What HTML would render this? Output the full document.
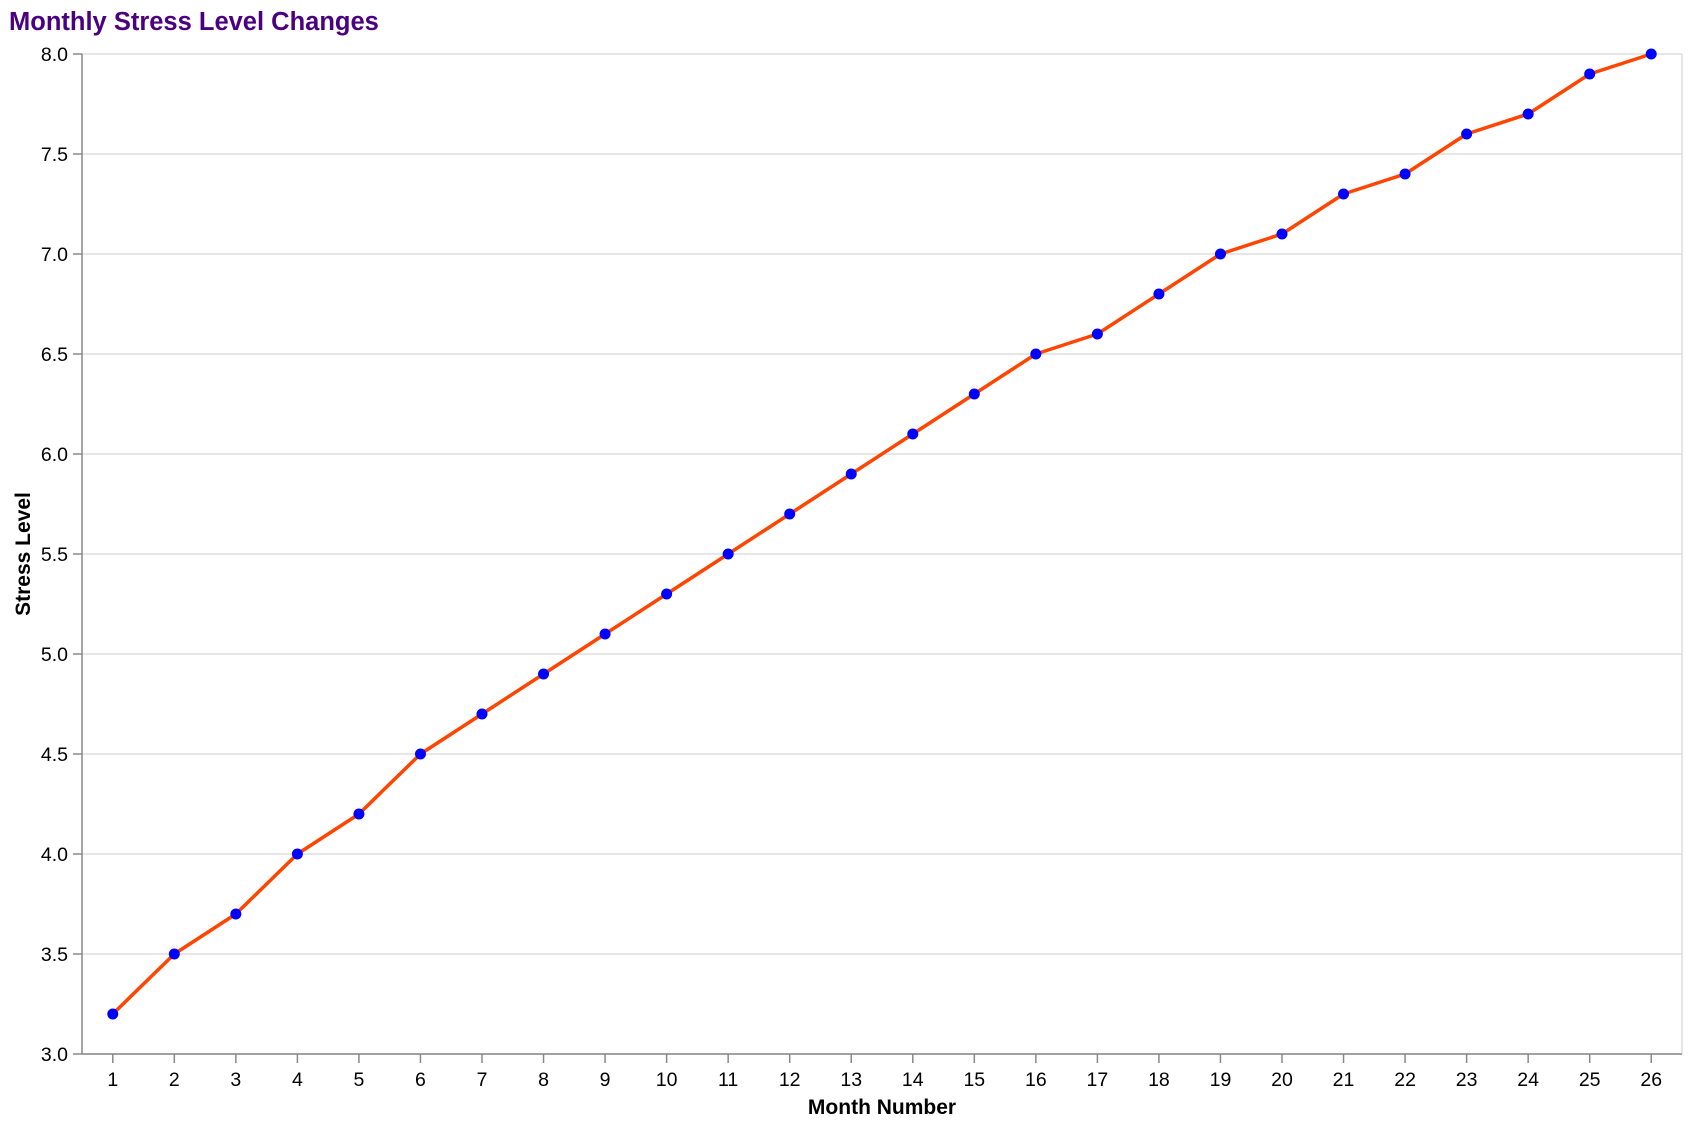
<!DOCTYPE html>
<html><head><meta charset="utf-8"><style>
body{margin:0;background:#fff;}
svg{display:block;font-family:"Liberation Sans",Arial,sans-serif;}
</style></head><body>
<svg id="chart" width="1692" height="1128" viewBox="0 0 1692 1128">
<text x="9" y="30" font-size="25.5" font-weight="bold" fill="#4b0082">Monthly Stress Level Changes</text>
<g id="grid"></g>
<g id="yaxis"></g>
<g id="xaxis"></g>
<g id="series"></g>
<text x="882" y="1114" font-size="21" font-weight="bold" text-anchor="middle" fill="#000">Month Number</text>
<text transform="translate(30,554) rotate(-90)" font-size="21" font-weight="bold" text-anchor="middle" fill="#000">Stress Level</text>
</svg>
<script>
const months = [1,2,3,4,5,6,7,8,9,10,11,12,13,14,15,16,17,18,19,20,21,22,23,24,25,26];
const stress = [3.2,3.5,3.7,4.0,4.2,4.5,4.7,4.9,5.1,5.3,5.5,5.7,5.9,6.1,6.3,6.5,6.6,6.8,7.0,7.1,7.3,7.4,7.6,7.7,7.9,8.0];
const yTicks = [3.0,3.5,4.0,4.5,5.0,5.5,6.0,6.5,7.0,7.5,8.0];
const yMin = 3, yMax = 8;

const L=82,R=1682,T=54,B=1054;
const NS="http://www.w3.org/2000/svg";
const step=(R-L)/months.length;
function xs(i){return L+step*(i+0.5);}
function ys(v){return B-(v-yMin)/(yMax-yMin)*(B-T);}
function mk(tag,attrs,parent){const e=document.createElementNS(NS,tag);for(const k in attrs)e.setAttribute(k,attrs[k]);parent.appendChild(e);return e;}
const grid=document.getElementById('grid'),ya=document.getElementById('yaxis'),xa=document.getElementById('xaxis'),ser=document.getElementById('series');

yTicks.forEach(t=>{
  const y=ys(t);
  const g=mk('line',{x1:L,x2:R,y1:y,y2:y,stroke:'#ddd','stroke-width':1.5},grid);
  
  
  const tk=mk('line',{x1:L-9,x2:L,y1:y,y2:y,stroke:'#888','stroke-width':1.5},ya);
  
  
  const lb=mk('text',{x:L-14,y:y+7,'font-size':19.5,'text-anchor':'end',fill:'#000'},ya);
  lb.textContent=t.toFixed(1);
  
  
});
const rb=mk('line',{x1:R,x2:R,y1:T,y2:B,stroke:'#ddd','stroke-width':1.5},grid);


const yl=mk('line',{x1:L,x2:L,y1:T,y2:B,stroke:'#888','stroke-width':1.5},ya);


const xl=mk('line',{x1:L,x2:R,y1:B,y2:B,stroke:'#888','stroke-width':1.5},xa);


months.forEach((m,i)=>{
  const x=xs(i);
  const tk=mk('line',{x1:x,x2:x,y1:B,y2:B+9,stroke:'#888','stroke-width':1.5},xa);
  
  
  const lb=mk('text',{x:x,y:B+32,'font-size':19.5,'text-anchor':'middle',fill:'#000'},xa);
  lb.textContent=m;
  
  
});
const pts=stress.map((v,i)=>xs(i)+','+ys(v)).join(' ');
const pl=mk('polyline',{points:pts,fill:'none',stroke:'#ff4500','stroke-width':3.5,'stroke-linejoin':'round'},ser);


stress.forEach((v,i)=>{
  const c=mk('circle',{cx:xs(i),cy:ys(v),r:5.5,fill:'#0000ff'},ser);
  
  
});
</script>
</body></html>
